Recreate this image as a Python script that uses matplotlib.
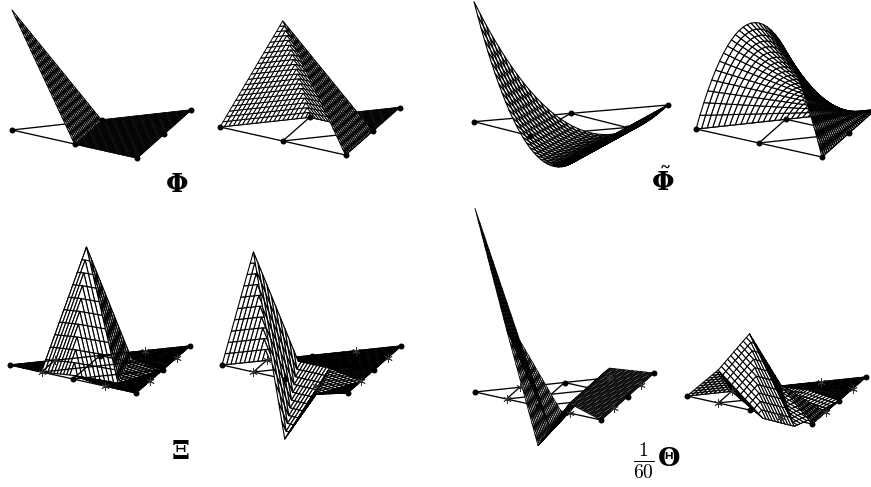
import numpy as np
import matplotlib
matplotlib.use('Agg')
import matplotlib.pyplot as plt
from matplotlib.collections import PolyCollection

# node values per row of the triangle: row k = steps towards D, entry j = steps towards C
PHI_VERTEX = [[1, 0, 0], [0, 0], [0]]
PHI_EDGE = [[0, 1, 0], [0, 0], [0]]
PHI_TILDE_VERTEX = [[1, -0.1, 0], [-0.1, 0], [0]]
PHI_TILDE_EDGE = [[0, 1, 0], [0, 0], [0]]
XI_INNER = [[0, 0, 0.03, 0, 0], [0, 1, -0.075, 0], [0, 0.03, 0], [0, 0], [0]]
XI_EDGE = [[0, 1, -0.5, -0.07, 0], [0, 0.05, 0.05, 0], [0, 0, 0], [0, 0], [0]]
THETA_VERTEX = [[1.53, 0.58, -0.33, 0.08, 0], [0.39, -0.31, 0.08, 0], [-0.29, 0.08, 0], [0.08, 0], [0]]
THETA_EDGE = [[0, 0.275, 0.635, 0.267, 0], [0, -0.167, -0.175, 0], [0, 0.03, 0], [0, 0], [0]]

LABELS = [r'$\mathbf{\Phi}$', r'$\tilde{\mathbf{\Phi}}$', r'$\mathbf{\Xi}$', r'$\frac{1}{60}$', r'$\mathbf{\Theta}$']


def eval_linear(values, c, d):
    # piecewise linear on the refined triangle lattice
    level = len(values) - 1
    s, t = c * level, d * level
    j = min(int(np.floor(s + 1e-9)), level - 1)
    k = min(int(np.floor(t + 1e-9)), level - 1)
    fs, ft = s - j, t - k
    if j + k >= level:
        j = max(level - 1 - k, 0)
        fs, ft = s - j, t - k
    if fs + ft <= 1 + 1e-9:
        return values[k][j] * (1 - fs - ft) + values[k][j + 1] * fs + values[k + 1][j] * ft
    return values[k + 1][j + 1] * (fs + ft - 1) + values[k + 1][j] * (1 - fs) + values[k][j + 1] * (1 - ft)


def eval_quadratic(values, c, d):
    a = 1 - c - d
    basis = [[a * (2 * a - 1), 4 * a * c, c * (2 * c - 1)], [4 * a * d, 4 * c * d], [d * (2 * d - 1)]]
    return sum(values[k][j] * basis[k][j] for k in range(3) for j in range(3 - k))


def draw_panel(ax, values, func, corners, n, lw, stars=False, lines_on_top=False):
    A, C, D = [np.array(p, dtype=float) for p in corners]
    height = 120.0
    ec, ed = C - A, D - A

    # viewing direction, for back to front ordering of the cells
    cz = (ed[0] * ec[1] - ec[0] * ed[1]) / height
    norm = np.hypot(ed[0], ec[0])

    def project(c, d, z):
        return A + c * ec + d * ed - np.array([0, height]) * z

    def depth(c, d, z):
        return (ed[0] * c - ec[0] * d) / norm * 100 + cz / norm * 100 * z

    grid = {}
    for j in range(n + 1):
        for k in range(n + 1 - j):
            c, d = j / n, k / n
            grid[j, k] = (c, d, func(values, c, d))

    polys, order = [], []
    for j in range(n):
        for k in range(n - j):
            cell = [(j, k), (j + 1, k)]
            if j + k + 1 < n:
                cell.append((j + 1, k + 1))
            cell.append((j, k + 1))
            pts = [grid[q] for q in cell]
            polys.append([project(*p) for p in pts])
            order.append(np.mean([depth(*p) for p in pts]))
    polys = [polys[i] for i in np.argsort(order)]

    surface = PolyCollection(polys, facecolors='white', edgecolors='black', linewidths=lw, zorder=3)
    ax.add_collection(surface)

    # flat triangle with its mid edge nodes
    nodes = lambda j, k: A + j / 4 * ec + k / 4 * ed
    segs = [((0, 0), (4, 0)), ((0, 0), (0, 4)), ((4, 0), (0, 4)), ((2, 0), (0, 2)), ((2, 0), (2, 2)), ((0, 2), (2, 2))]
    if stars:
        segs += [((1, 0), (0, 1)), ((1, 0), (1, 3))]
    for p, q in segs:
        a, b = nodes(*p), nodes(*q)
        ax.plot([a[0], b[0]], [a[1], b[1]], color='black', lw=0.95, zorder=4 if lines_on_top else 2)
    for p in [(0, 0), (2, 0), (4, 0), (2, 2), (0, 4), (0, 2)]:
        a = nodes(*p)
        ax.plot(a[0], a[1], 'o', color='black', ms=4.3, mew=0, zorder=5)
    if stars:
        for p in [(1, 0), (3, 0), (3, 1), (1, 3), (0, 1), (0, 3)]:
            a = nodes(*p)
            ax.plot(a[0], a[1], marker=(6, 2, 0), color='#333333', ms=6, mew=0.6, zorder=5)


def main():
    fig = plt.figure(figsize=(8.71, 4.87), dpi=100)
    ax = fig.add_axes([0, 0, 1, 1])
    ax.set_xlim(0, 871)
    ax.set_ylim(487, 0)
    ax.axis('off')

    draw_panel(ax, PHI_VERTEX, eval_linear, [(12, 130), (137, 158), (191, 110)], 40, 0.7)
    draw_panel(ax, PHI_EDGE, eval_linear, [(220, 127), (345.5, 155), (399.5, 107.5)], 40, 0.7)
    draw_panel(ax, PHI_TILDE_VERTEX, eval_quadratic, [(474, 121.7), (586, 150), (668, 105)], 32, 0.8)
    draw_panel(ax, PHI_TILDE_EDGE, eval_quadratic, [(696, 129), (822, 157), (875.5, 109.5)], 32, 0.8)
    draw_panel(ax, XI_INNER, eval_linear, [(10, 365), (136, 393), (190, 346)], 40, 0.8, stars=True, lines_on_top=True)
    draw_panel(ax, XI_EDGE, eval_linear, [(222, 365), (347.5, 393), (401, 346)], 40, 0.8, stars=True)
    draw_panel(ax, THETA_VERTEX, eval_linear, [(475, 392), (601, 420), (654, 373)], 40, 0.62, stars=True)
    draw_panel(ax, THETA_EDGE, eval_linear, [(687, 396), (812, 424), (866, 377)], 40, 0.75, stars=True)

    ax.text(177, 184.5, LABELS[0], fontsize=18.5, ha='center', va='center', math_fontfamily='dejavuserif')
    ax.text(663, 182.5, LABELS[1], fontsize=18.5, ha='center', va='center', math_fontfamily='dejavuserif')
    ax.text(180, 452, LABELS[2], fontsize=18.5, ha='center', va='center', math_fontfamily='dejavuserif')
    ax.text(644, 460, LABELS[3], fontsize=20, ha='center', va='center', math_fontfamily='cm')
    ax.text(669, 459, LABELS[4], fontsize=18.5, ha='center', va='center', math_fontfamily='dejavuserif')

    fig.savefig('out.png', dpi=100)


if __name__ == "__main__":
    main()
